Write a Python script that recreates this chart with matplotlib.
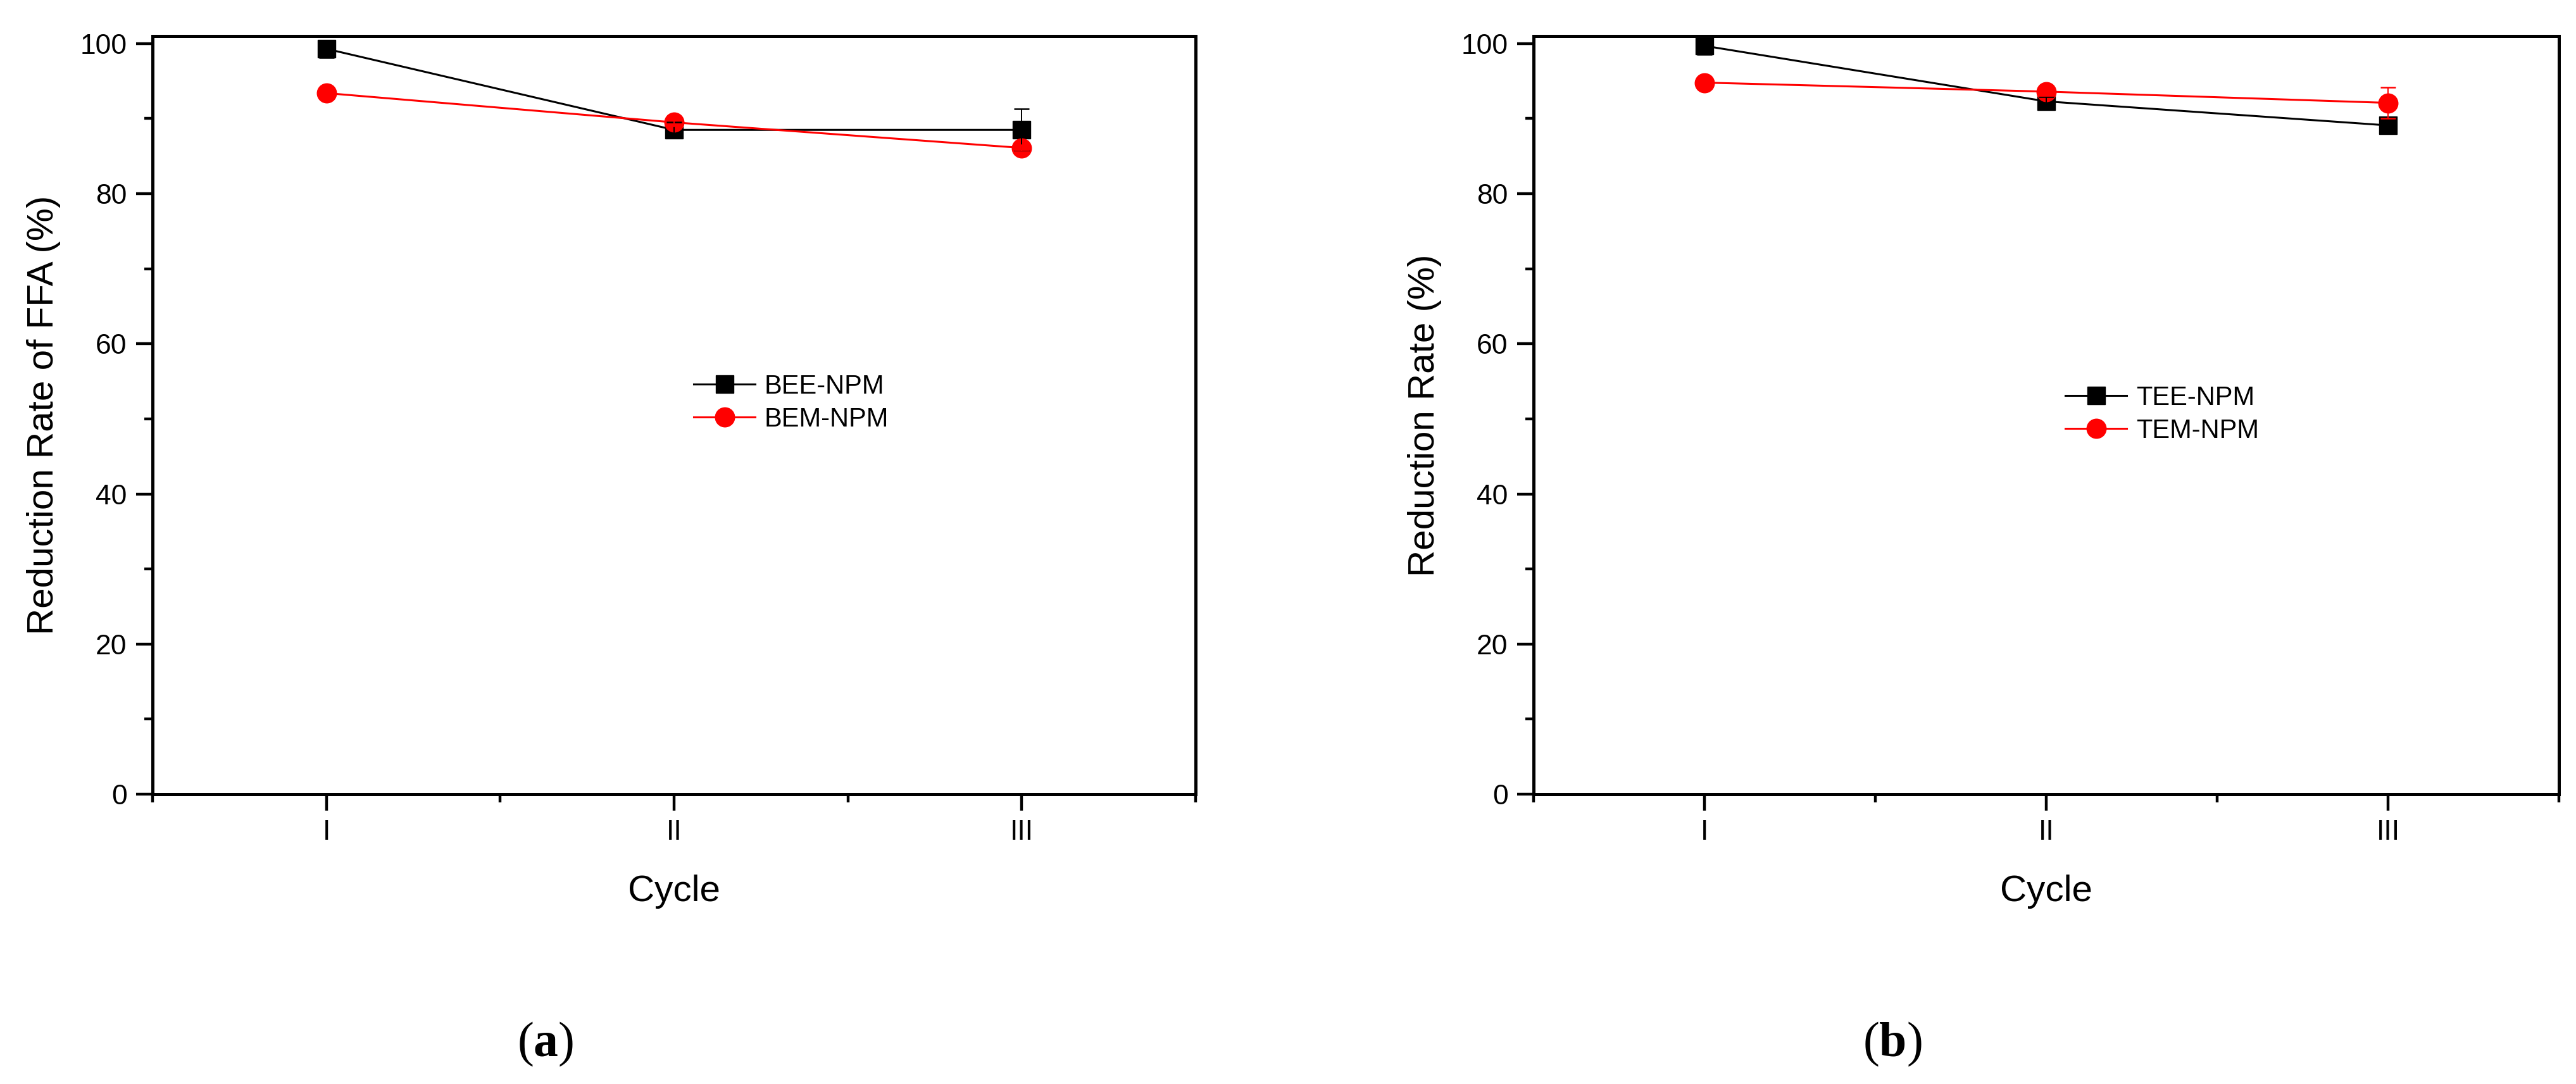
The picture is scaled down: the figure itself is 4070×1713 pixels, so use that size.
import matplotlib
matplotlib.use("Agg")
import matplotlib.pyplot as plt
from matplotlib.ticker import MultipleLocator, FixedLocator

# ---------------- data ----------------
cycles = ["I", "II", "III"]
cycle_pos = [1, 2, 3]

bee_npm = [99.3, 88.5, 88.5]
bee_err = [1.15, 1.0, 2.8]
bem_npm = [93.4, 89.5, 86.1]
bem_err = [0.6, 0.5, 0.4]

tee_npm = [99.7, 92.3, 89.1]
tee_err = [1.15, 0.6, 0.6]
tem_npm = [94.8, 93.6, 92.1]
tem_err = [0.4, 0.5, 2.1]

y_ticks = [0, 20, 40, 60, 80, 100]

# ---------------- style ----------------
plt.rcParams['font.family'] = ['Liberation Sans', 'DejaVu Sans']
plt.rcParams['mathtext.fontset'] = 'custom'
plt.rcParams['mathtext.bf'] = 'Liberation Serif:bold'
plt.rcParams['mathtext.rm'] = 'Liberation Serif'

W, H = 4070, 1713
DPI = 100
fig = plt.figure(figsize=(W / DPI, H / DPI), dpi=DPI)

top = 1 - 57 / H
bottom = 1 - 1255 / H
ax1 = fig.add_axes([241 / W, bottom, (1889 - 241) / W, top - bottom])
ax2 = fig.add_axes([2423 / W, bottom, (4043 - 2423) / W, top - bottom])


def draw(ax, s1, e1, l1, s2, e2, l2, ylabel, leg_anchor):
    ax.plot(cycle_pos, s1, color='black', lw=2.2, marker='s', ms=20,
            mfc='black', mec='black', label=l1, zorder=3)
    ax.plot(cycle_pos, s2, color='#FF0000', lw=2.2, marker='o', ms=22,
            mfc='#FF0000', mec='#FF0000', label=l2, zorder=3.5)
    ax.errorbar(cycle_pos, s1, yerr=e1, fmt='none', ecolor='black',
                elinewidth=1.4, capsize=8.5, capthick=1.8, zorder=4)
    ax.errorbar(cycle_pos, s2, yerr=e2, fmt='none', ecolor='#FF0000',
                elinewidth=1.4, capsize=8.5, capthick=1.8, zorder=4)

    ax.set_xlim(0.5, 3.5)
    ax.set_ylim(0, 101)
    ax.xaxis.set_major_locator(FixedLocator(cycle_pos))
    ax.set_xticklabels(cycles)
    ax.xaxis.set_minor_locator(FixedLocator([0.5, 1.5, 2.5, 3.5]))
    ax.yaxis.set_major_locator(FixedLocator(y_ticks))
    ax.yaxis.set_minor_locator(MultipleLocator(10))

    for sp in ax.spines.values():
        sp.set_linewidth(3.6)
    ax.tick_params(which='major', direction='out', length=18.5, width=3.2,
                   pad=10.5, labelsize=32, top=False, right=False)
    ax.tick_params(which='minor', direction='out', length=9.5, width=3.2,
                   top=False, right=False)

    ax.set_xlabel("Cycle", fontsize=42, labelpad=33)
    ax.set_ylabel(ylabel, fontsize=42, labelpad=22)

    ax.legend(loc='center left', bbox_to_anchor=leg_anchor, frameon=False,
              fontsize=30, handlelength=2.33, handletextpad=0.35,
              borderpad=0, borderaxespad=0, labelspacing=0.3,
              markerscale=1.0)


draw(ax1, bee_npm, bee_err, "BEE-NPM", bem_npm, bem_err, "BEM-NPM",
     "Reduction Rate of FFA (%)", (0.519, 0.516))
draw(ax2, tee_npm, tee_err, "TEE-NPM", tem_npm, tem_err, "TEM-NPM",
     "Reduction Rate (%)", (0.5185, 0.501))

fig.text(862 / W, 1 - 1650 / H, r"($\mathbf{a}$)", ha='center', va='center',
         fontsize=56, family='Liberation Serif')
fig.text(2990 / W, 1 - 1650 / H, r"($\mathbf{b}$)", ha='center', va='center',
         fontsize=56, family='Liberation Serif')

fig.savefig("out.png", dpi=DPI, facecolor='white')
